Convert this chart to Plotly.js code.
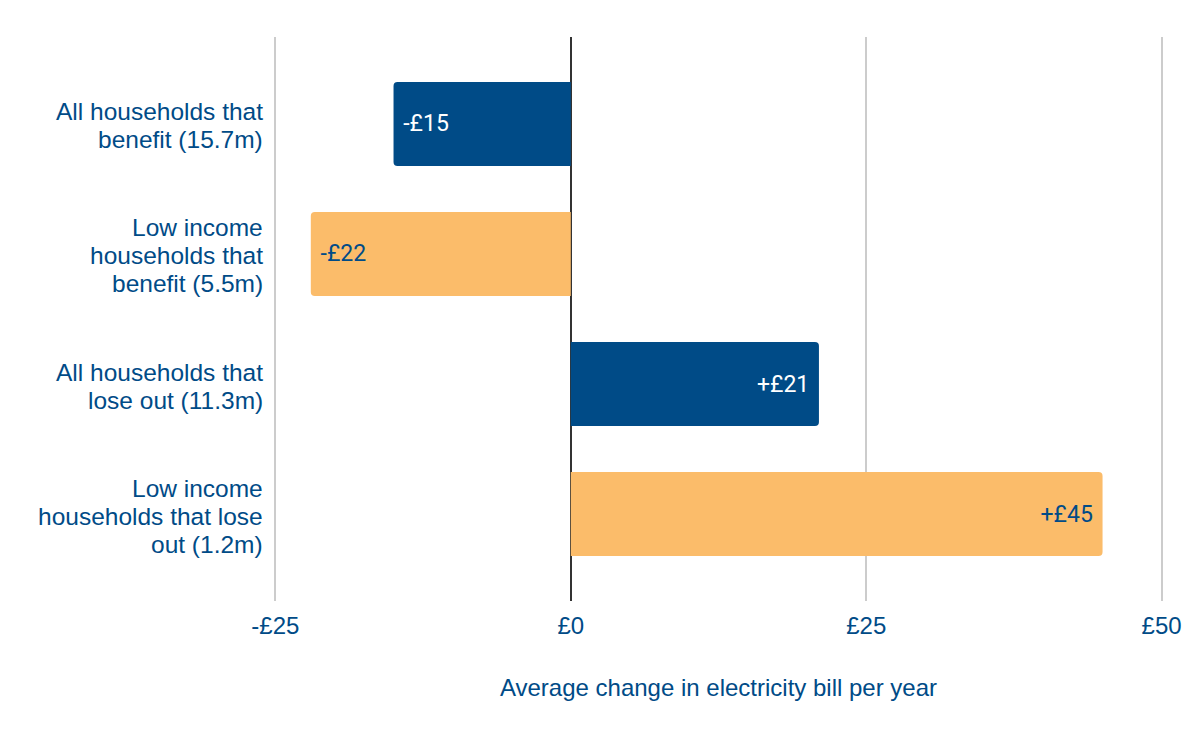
<!DOCTYPE html>
<html>
<head>
<meta charset="utf-8">
<script src="https://cdn.plot.ly/plotly-3.0.1.min.js"></script>
<style>html,body{margin:0;padding:0;background:#fff;}#chart{width:1200px;height:742px;}</style>
</head>
<body>
<div id="chart"></div>
<script>
const categories = [
  "All households that<br>benefit (15.7m)",
  "Low income<br>households that<br>benefit (5.5m)",
  "All households that<br>lose out (11.3m)",
  "Low income<br>households that lose<br>out (1.2m)"
];
const values = [-15, -22, 21, 45];
const valueLabels = ["-£15", "-£22", "+£21", "+£45"];
const barColors = ["#004B87", "#FBBC6A", "#004B87", "#FBBC6A"];
const labelColors = ["#ffffff", "#004B87", "#ffffff", "#004B87"];
const tickVals = [-25, 0, 25, 50];
const tickText = ["-£25", "£0", "£25", "£50"];
const xTitle = "Average change in electricity bill per year";

const NB = "\u00a0";
const barText = valueLabels.map((t, i) => values[i] < 0 ? NB + t : t + NB);
const yKeys = categories.map((c, i) => "c" + i);
const ARIAL = "Liberation Sans, Arial, sans-serif";

const trace = {
  type: "bar",
  orientation: "h",
  x: values,
  y: yKeys,
  marker: { color: barColors, cornerradius: 4 },
  text: barText,
  textposition: "inside",
  insidetextanchor: "end",
  textangle: 0,
  constraintext: "none",
  textfont: { family: "Roboto", size: 23, color: labelColors },
  hoverinfo: "none"
};

const annotations = [];
categories.forEach((c, i) => {
  const lines = c.split("<br>");
  const n = lines.length;
  lines.forEach((ln, j) => {
    annotations.push({
      xref: "paper", yref: "y", x: 0, y: yKeys[i],
      xanchor: "right", yanchor: "middle",
      xshift: -8, yshift: -(j - (n - 1) / 2) * 28 - 2,
      text: ln, showarrow: false,
      font: { family: ARIAL, size: 24.5, color: "#004B87" }
    });
  });
});

const layout = {
  width: 1200, height: 742,
  margin: { l: 273, r: 36, t: 37, b: 141 },
  paper_bgcolor: "#ffffff", plot_bgcolor: "#ffffff",
  showlegend: false,
  bargap: 0.354,
  xaxis: {
    range: [-25.2, 50.2],
    tickvals: tickVals, ticktext: tickText,
    showgrid: true, gridcolor: "#cccccc", gridwidth: 2,
    zeroline: true, zerolinecolor: "#333333", zerolinewidth: 2,
    showline: false, ticks: "",
    ticklabelstandoff: 8,
    tickfont: { family: ARIAL, size: 24, color: "#004B87" },
    title: { text: xTitle, standoff: 41, font: { family: ARIAL, size: 24, color: "#004B87" } },
    automargin: false, fixedrange: true
  },
  yaxis: {
    type: "category",
    categoryarray: yKeys,
    range: [3.669, -0.669],
    showgrid: false, zeroline: false, showline: false,
    showticklabels: false, ticks: "",
    automargin: false, fixedrange: true
  },
  annotations: annotations
};

Plotly.newPlot("chart", [trace], layout, { staticPlot: true, displayModeBar: false });
</script>
</body>
</html>
